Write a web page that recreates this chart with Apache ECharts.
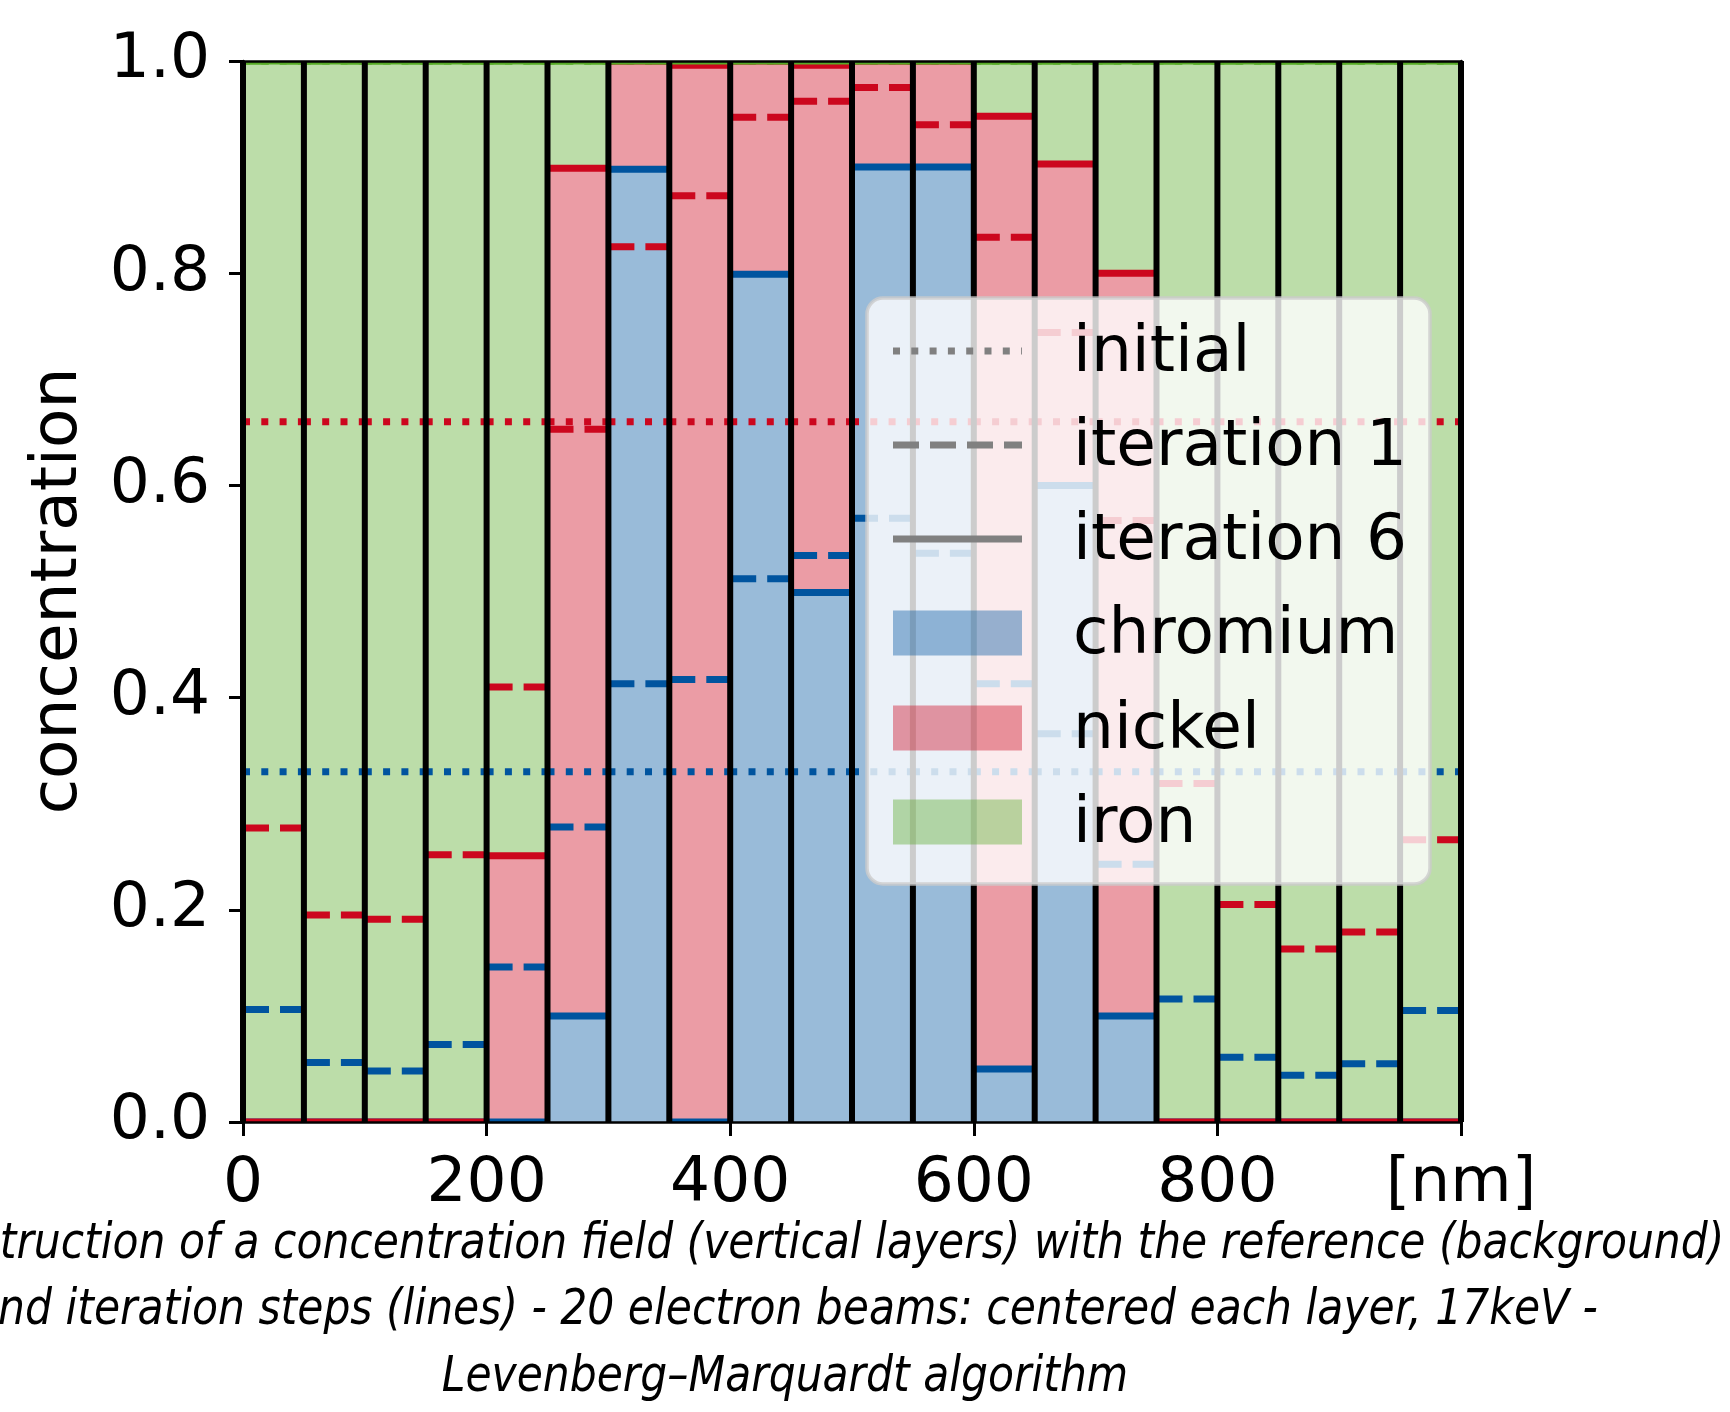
<!DOCTYPE html>
<html><head><meta charset="utf-8">
<script src="https://cdn.jsdelivr.net/npm/echarts@6/dist/echarts.min.js"></script>
<style>html,body{margin:0;padding:0;background:#fff}#c{width:1730px;height:1412px}</style>
</head><body><div id="c"></div>
<script>
// ---- data ----
const layerEdges = [0,50,100,150,200,250,300,350,400,450,500,550,600,650,700,750,800,850,900,950,1000];
const xTicks = [0,200,400,600,800,1000];
const xTickLabels = ['0','200','400','600','800','[nm]'];
const yTicks = [0,0.2,0.4,0.6,0.8,1.0];

// reference (background) concentrations per layer
const refChromium = [0,0,0,0,0,0.1,0.9,0,0.8,0.5,0.9,0.9,0.05,0.6,0.1,0,0,0,0,0];
const refNickel   = [0,0,0,0,0.25,0.8,0.1,1.0,0.2,0.5,0.1,0.1,0.9,0.3,0.7,0,0,0,0,0];
const refIron     = [1,1,1,1,0.75,0.1,0,0,0,0,0,0,0.05,0.1,0.2,1,1,1,1,1];

// initial guess
const initChromium = [0.33,0.33,0.33,0.33,0.33,0.33,0.33,0.33,0.33,0.33,0.33,0.33,0.33,0.33,0.33,0.33,0.33,0.33,0.33,0.33];
const initNickel   = [0.33,0.33,0.33,0.33,0.33,0.33,0.33,0.33,0.33,0.33,0.33,0.33,0.33,0.33,0.33,0.33,0.33,0.33,0.33,0.33];

// iteration 1
const it1Chromium = [0.106,0.056,0.048,0.073,0.146,0.278,0.413,0.417,0.512,0.534,0.569,0.536,0.413,0.366,0.243,0.116,0.061,0.044,0.055,0.105];
const it1Nickel   = [0.171,0.139,0.143,0.179,0.264,0.375,0.412,0.456,0.435,0.428,0.406,0.404,0.421,0.378,0.324,0.203,0.144,0.119,0.124,0.161];

// iteration 6
const it6Chromium = [0,0,0,0,0,0.1,0.898,0,0.799,0.499,0.9,0.9,0.05,0.6,0.1,0,0,0,0,0];
const it6Nickel   = [0,0,0,0,0.251,0.799,0.102,0.996,0.201,0.497,0.1,0.1,0.898,0.303,0.7,0,0,0,0,0];

const totalConcentration = 1;

// ---- styles ----
const C_CR = '#00549F', C_NI = '#CC071E', C_FE = '#57AB27';
const F_CR = 'rgba(0,84,159,0.4)', F_NI = 'rgba(204,7,30,0.4)', F_FE = 'rgba(87,171,39,0.4)';
const LW = 7;
const DASH = [26, 11];
const DOT = [7, 11.3];
const FONT = 'DejaVu Sans';
const FS = 63;
const FS_L = 64.5;

const nLayers = layerEdges.length - 1;
const barData = [];
for (let i = 0; i < nLayers; i++) barData.push([layerEdges[i], layerEdges[i+1], refChromium[i], refNickel[i], refIron[i]]);

function levelData(cr, ni, which) {
  const out = [];
  for (let i = 0; i < nLayers; i++) {
    let v = which === 'cr' ? cr[i] : which === 'ni' ? cr[i] + ni[i] : totalConcentration;
    out.push([layerEdges[i], layerEdges[i+1], v]);
  }
  return out;
}

function lineSeries(name, data, color, dash) {
  return {
    type: 'custom', name: name, z: 2, clip: true, silent: true,
    data: data,
    encode: {x: [0, 1], y: 2},
    renderItem: function (params, api) {
      const p0 = api.coord([api.value(0), api.value(2)]);
      const p1 = api.coord([api.value(1), api.value(2)]);
      return {type: 'line', shape: {x1: p0[0], y1: p0[1], x2: p1[0], y2: p1[1]},
        style: {stroke: color, lineWidth: LW, lineDash: dash, lineCap: 'butt', fill: null}};
    }
  };
}

const series = [];
series.push({
  type: 'custom', name: 'bars', z: 1, silent: true, data: barData,
  encode: {x: [0, 1], y: [2]},
  renderItem: function (params, api) {
    const x0 = api.value(0), x1 = api.value(1);
    const cr = api.value(2), ni = api.value(3), fe = api.value(4);
    function rect(b, t, fill) {
      const a = api.coord([x0, b]), c = api.coord([x1, t]);
      return {type: 'rect', shape: {x: a[0], y: c[1], width: c[0] - a[0], height: a[1] - c[1]}, style: {fill: fill}};
    }
    return {type: 'group', children: [rect(0, cr, F_CR), rect(cr, cr + ni, F_NI), rect(cr + ni, cr + ni + fe, F_FE)]};
  }
});
// lines: initial (dotted), iteration 1 (dashed), iteration 6 (solid)
[[initChromium, initNickel, DOT, 'initial'], [it1Chromium, it1Nickel, DASH, 'iteration 1'], [it6Chromium, it6Nickel, null, 'iteration 6']].forEach(function (d) {
  series.push(lineSeries(d[3] + ' Cr', levelData(d[0], d[1], 'cr'), C_CR, d[2]));
  series.push(lineSeries(d[3] + ' Ni', levelData(d[0], d[1], 'ni'), C_NI, d[2]));
  series.push(lineSeries(d[3] + ' Fe', levelData(d[0], d[1], 'fe'), C_FE, d[2]));
});
// layer separators
series.push({
  type: 'custom', name: 'layers', z: 3, silent: true, clip: false,
  data: layerEdges.map(function (e) { return [e]; }),
  encode: {x: 0},
  renderItem: function (params, api) {
    const a = api.coord([api.value(0), 0]), b = api.coord([api.value(0), 1]);
    return {type: 'line', shape: {x1: a[0], y1: a[1], x2: b[0], y2: b[1]}, style: {stroke: '#000', lineWidth: 6}};
  }
});

// ---- legend (drawn) ----
const ZL = 100;
const L = {x: 867, y: 298, w: 563, h: 586, hx: 893, hw: 129, tx: 1073, rows: [351, 445, 539, 633, 728, 822]};
const legendItems = [
  {label: 'initial', kind: 'line', dash: DOT},
  {label: 'iteration 1', kind: 'line', dash: DASH},
  {label: 'iteration 6', kind: 'line', dash: null},
  {label: 'chromium', kind: 'patch', fill: F_CR},
  {label: 'nickel', kind: 'patch', fill: F_NI},
  {label: 'iron', kind: 'patch', fill: F_FE}
];
const legendGraphics = [{
  type: 'rect', z: ZL, shape: {x: L.x, y: L.y, width: L.w, height: L.h, r: 16},
  style: {fill: 'rgba(255,255,255,0.8)', stroke: 'rgba(204,204,204,0.8)', lineWidth: 3.5}
}];
legendItems.forEach(function (it, i) {
  const y = L.rows[i];
  if (it.kind === 'line') {
    legendGraphics.push({type: 'line', z: ZL + 1, shape: {x1: L.hx, y1: y, x2: L.hx + L.hw, y2: y},
      style: {stroke: '#808080', lineWidth: LW, lineDash: it.dash, lineCap: 'butt'}});
  } else {
    legendGraphics.push({type: 'rect', z: ZL + 1, shape: {x: L.hx, y: y - 22.5, width: L.hw, height: 45}, style: {fill: it.fill}});
  }
  legendGraphics.push({type: 'text', z: ZL + 1, x: L.tx, y: y + 3.5,
    style: {text: it.label, fill: '#000', font: FS_L + 'px "' + FONT + '"', align: 'left', verticalAlign: 'middle'}});
});

const captionLines = [
  'Reconstruction of a concentration field (vertical layers) with the reference (background)',
  'and iteration steps (lines) - 20 electron beams: centered each layer, 17keV -',
  'Levenberg\u2013Marquardt algorithm'
];
const captionGraphics = captionLines.map(function (t, i) {
  return {type: 'text', x: 785, y: 1245 + i * 66.7, scaleX: 0.867, z: 20,
    style: {text: t, fill: '#000', font: 'italic 49px "' + FONT + '"', align: 'center', verticalAlign: 'middle'}};
});

const chart = echarts.init(document.getElementById('c'), null, {renderer: 'canvas'});
chart.setOption({
  animation: false,
  backgroundColor: '#fff',
  grid: {left: 243, right: 269, top: 61, bottom: 290, containLabel: false},
  xAxis: [{
    type: 'value', min: xTicks[0], max: xTicks[xTicks.length - 1], interval: xTicks[1] - xTicks[0], z: 10,
    axisLine: {show: true, onZero: false, lineStyle: {color: '#000', width: 2.5}},
    axisTick: {show: true, length: 14, lineStyle: {color: '#000', width: 3}},
    axisLabel: {fontSize: FS, fontFamily: FONT, color: '#000', margin: 31,
      formatter: function (v) { const k = xTicks.indexOf(v); return k >= 0 ? xTickLabels[k] : ''; }},
    splitLine: {show: false}
  }, {
    type: 'value', position: 'top', min: 0, max: 1000, z: 10,
    axisLine: {show: true, onZero: false, lineStyle: {color: '#000', width: 2.5}},
    axisTick: {show: false}, axisLabel: {show: false}, splitLine: {show: false}
  }],
  yAxis: [{
    type: 'value', min: yTicks[0], max: yTicks[yTicks.length - 1], interval: 0.2, z: 10,
    axisLine: {show: true, onZero: false, lineStyle: {color: '#000', width: 2.5}},
    axisTick: {show: true, length: 14, lineStyle: {color: '#000', width: 3}},
    axisLabel: {fontSize: FS, fontFamily: FONT, color: '#000', margin: 33,
      formatter: function (v) { return v.toFixed(1); }},
    splitLine: {show: false}
  }, {
    type: 'value', position: 'right', min: 0, max: 1, z: 10,
    axisLine: {show: true, onZero: false, lineStyle: {color: '#000', width: 2.5}},
    axisTick: {show: false}, axisLabel: {show: false}, splitLine: {show: false}
  }],
  series: series,
  graphic: legendGraphics.concat([
    {type: 'text', x: 59.6, y: 591, rotation: Math.PI / 2, z: 20,
      style: {text: 'concentration', fill: '#000', font: FS_L + 'px "' + FONT + '"', align: 'center', verticalAlign: 'middle'}}
  ]).concat(captionGraphics)
});
</script></body></html>
